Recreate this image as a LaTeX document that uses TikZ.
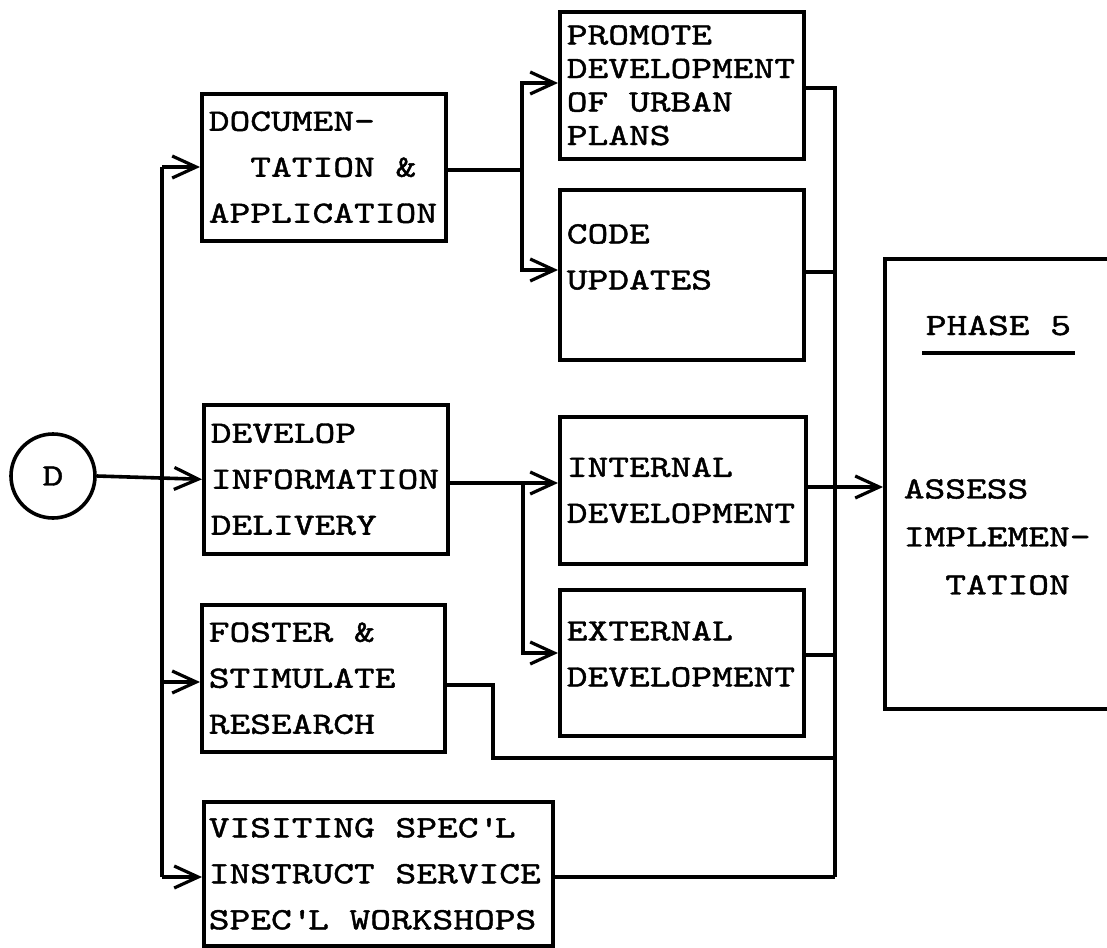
\documentclass[tikz,border=0pt]{standalone}
\usepackage{fontspec}
\newfontfamily\tw{lmmono10-regular.otf}[FakeStretch=1.275, FakeBold=1.4]
\newcommand{\twfont}[2]{\tw\fontsize{#1}{#2}\selectfont\fontdimen2\font=20.75pt\fontdimen3\font=0pt\fontdimen4\font=0pt\relax}
\usetikzlibrary{arrows.meta}
\begin{document}
\begin{tikzpicture}[x=1pt,y=-1pt,
  line width=3.6pt,
  box/.style={draw, rectangle, anchor=north west, inner xsep=7pt, inner ysep=0pt,
    minimum height=147pt, align=left, font=\twfont{31}{46}},
  arr/.style={-{Straight Barb[length=24pt,width=22pt,line width=3.2pt]}},
  lab/.style={font=\twfont{31}{48}, inner sep=0pt, align=left}
]
\clip (0,0) rectangle (1107,947);
\fill[white] (0,0) rectangle (1107,947);

% boxes
\node[box, text width=230pt] (doc) at (200,92) {DOCUMEN-\\\hphantom{XX}TATION\hphantom{X}\&\\APPLICATION};
\node[box, text width=230pt, font=\twfont{31}{33.5}] (prom) at (558,10) {PROMOTE\\DEVELOPMENT\\OF\hphantom{X}URBAN\\PLANS};
\node[box, text width=230pt, minimum height=170pt] (code) at (558,188) {CODE\\UPDATES\\[-10pt]\mbox{}};
\node[box, text width=230pt, minimum height=149pt] (dev) at (202,403) {DEVELOP\\INFORMATION\\DELIVERY};
\node[box, text width=232pt] (int) at (558,415) {INTERNAL\\DEVELOPMENT};
\node[box, text width=230pt, minimum height=146pt] (ext) at (558,588) {EXTERNAL\\DEVELOPMENT\\[-28pt]\mbox{}};
\node[box, text width=229pt] (fos) at (200,603) {FOSTER\hphantom{X}\&\\STIMULATE\\RESEARCH};
\node[box, text width=339pt, minimum height=144pt, inner xsep=5pt] (vis) at (202,800) {VISITING\hphantom{X}SPEC\textquotesingle L\\INSTRUCT\hphantom{X}SERVICE\\SPEC\textquotesingle L\hphantom{X}WORKSHOPS};
\node[draw, circle, minimum size=84pt, inner sep=0pt, font=\twfont{31}{40}] (d) at (53,476) {D};
\node[draw, rectangle, anchor=north west, minimum width=260pt, minimum height=450pt] (ph) at (883,257) {};
\node[lab, anchor=base west, inner xsep=2pt] (ph5) at (922,335) {PHASE\hphantom{X}5};
\draw ([yshift=-18pt]ph5.base west) -- ([yshift=-18pt]ph5.base east);
\node[lab, anchor=west] (asr) at (902,537) {ASSESS\\IMPLEMEN-\\\hphantom{XX}TATION};

% trunk from D
\coordinate (t1) at (162,167);
\coordinate (t3) at (162,682);
\coordinate (t4) at (162,877);
\draw (t1) -- (t4);
\draw[arr] (t1) -- (t1 -| doc.west);
\draw[arr] (d.east) -- (dev.west);
\draw[arr] (t3) -- (t3 -| fos.west);
\draw[arr] (t4) -- (t4 -| vis.west);

% branch from documentation
\coordinate (b1) at (522,170);
\coordinate (b2) at (522,83);
\coordinate (b3) at (522,270);
\draw (b1 -| doc.east) -- (b1);
\draw[arr] (b1) -- (b2) -- (b2 -| prom.west);
\draw[arr] (b1) -- (b3) -- (b3 -| code.west);

% branch from develop information delivery
\coordinate (b4) at (523,483);
\coordinate (b5) at (523,653);
\draw (b4 -| dev.east) -- (b4);
\draw[arr] (b4) -- (b4 -| int.west);
\draw[arr] (b4) -- (b5) -- (b5 -| ext.west);

% internal -> phase 5
\coordinate (i1) at (835,487);
\draw[arr] (i1 -| int.east) -- (i1 -| ph.west);

% collector
\coordinate (c1) at (835,88);
\coordinate (c2) at (835,272);
\coordinate (c3) at (835,655);
\coordinate (c4) at (835,758);
\coordinate (c5) at (835,877);
\coordinate (f1) at (493,685);
\draw (c1 -| prom.east) -- (c1) -- (c5);
\draw (c2 -| code.east) -- (c2);
\draw (c3 -| ext.east) -- (c3);
\draw (f1 -| fos.east) -- (f1) |- (c4);
\draw (c5 -| vis.east) -- (c5);
\end{tikzpicture}
\end{document}
